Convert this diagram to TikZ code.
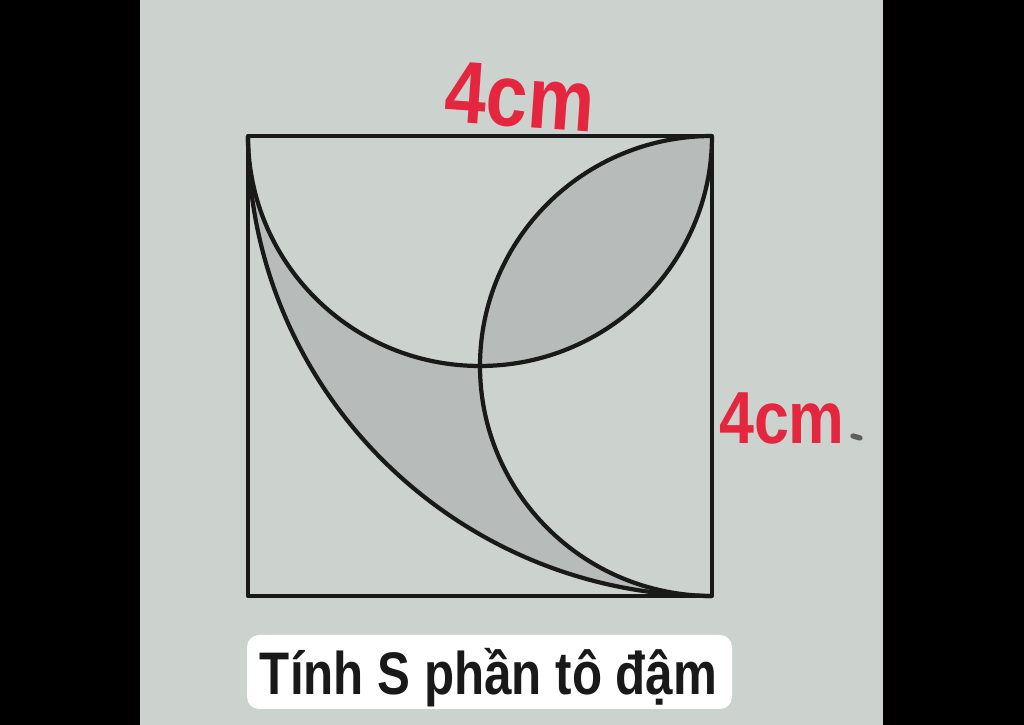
\documentclass[tikz,border=0pt]{standalone}
\usepackage{fontspec}
\usepackage{xcolor}
\setmainfont{Liberation Sans}
\newfontfamily\labelfont[FakeStretch=0.82]{Liberation Sans}
\newfontfamily\penfont[FakeStretch=0.85]{Liberation Sans}
\definecolor{paper}{RGB}{204,210,206}
\definecolor{areagray}{RGB}{183,187,185}
\definecolor{ink}{RGB}{25,25,25}
\definecolor{penred}{RGB}{228,38,62}

\begin{document}
\begin{tikzpicture}[figline/.style={draw=ink, line width=1.2pt, line join=round}, penlabel/.style={text=penred, inner sep=0pt}, tasklabel/.style={text=ink, anchor=base, inner sep=0pt, font=\labelfont\bfseries\fontsize{17.1}{20}\selectfont}]
\useasboundingbox (0,0) rectangle (10.24,7.25);

\fill[black] (0,0) rectangle (1.40,7.25);
\fill[black] (8.83,0) rectangle (10.24,7.25);
\fill[paper] (1.40,0) rectangle (8.83,7.25);

\begin{scope}[shift={(2.48,1.29)}, xscale=1.16, yscale=1.15]
\fill[areagray] (0,4) arc[start angle=180, end angle=270, radius=4] arc[start angle=270, end angle=180, radius=2] arc[start angle=270, end angle=180, radius=2] -- cycle;
\fill[areagray] (2,2) arc[start angle=270, end angle=360, radius=2] arc[start angle=90, end angle=180, radius=2] -- cycle;

\draw[figline] (0,0) rectangle (4,4);
\draw[figline] (0,4) arc[start angle=180, end angle=360, radius=2];
\draw[figline] (4,4) arc[start angle=90, end angle=270, radius=2];
\draw[figline] (0,4) arc[start angle=180, end angle=270, radius=4];
\end{scope}

\node[penlabel, rotate=-4, font=\penfont\bfseries\fontsize{25}{25}\selectfont] (topside) at (5.20, 6.28) {4cm};
\node[penlabel, font=\penfont\bfseries\fontsize{21}{21}\selectfont] (rightside) at (7.82, 3.07) {4cm};
\draw[ink!70, line width=1.5pt, line cap=round] (8.53,2.89) -- (8.60,2.87);

\fill[white, rounded corners=0.12cm] (2.47,0.16) rectangle (7.32,0.90);
\node[tasklabel] (task) at (4.885, 0.30) {Tính S phần tô đậm};

\end{tikzpicture}
\end{document}
